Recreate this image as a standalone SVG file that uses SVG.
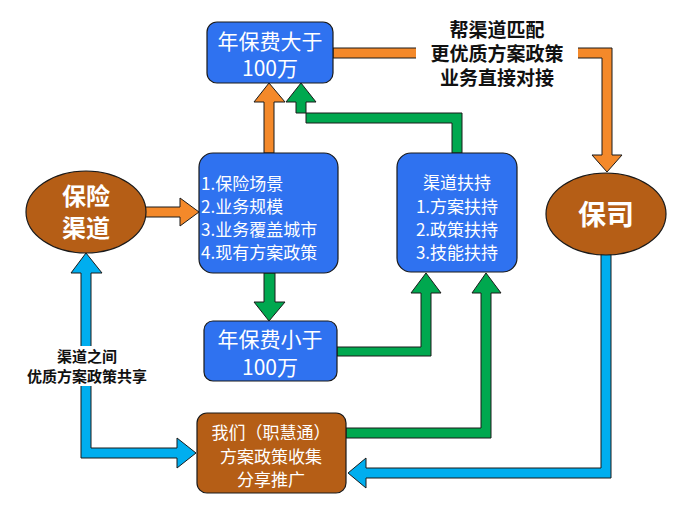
<svg xmlns="http://www.w3.org/2000/svg" width="682" height="506" viewBox="0 0 682 506">
<style>
.b{fill:#2F72F0;stroke:#1a1a1a;stroke-width:1.2}
.br{fill:#B55E16;stroke:#1a1a1a;stroke-width:1.2}
.o{fill:#F4892A;stroke:#1a1a1a;stroke-width:1}
.g{fill:#00A84F;stroke:#1a1a1a;stroke-width:1}
.c{fill:#00AEEF;stroke:#1a1a1a;stroke-width:1}
text{font-family:"Noto Sans CJK SC","Microsoft YaHei",sans-serif;text-anchor:middle}
.w{fill:#fff}
.k{fill:#111;font-weight:bold}
</style>
<g id="connectors">
<polygon class="o" points="264,153 264,102 254,102 269,83 285,102 274,102 274,153"/>
<polygon class="g" points="452,153 452,123 306,123 306,102 316,102 301,83 286,102 296,102 296,113 462,113 462,153"/>
<polygon class="o" points="333,48 612,48 612,155 622,155 607,172 592,155 602,155 602,58 333,58"/>
<polygon class="o" points="145,207 180,207 180,198 199,212 180,226 180,217 145,217"/>
<polygon class="g" points="264,273 264,302 254,302 269,321 285,302 275,302 275,273"/>
<polygon class="g" points="337,347 421,347 421,293 411,293 426,273 441,293 431,293 431,356 337,356"/>
<polygon class="g" points="346,428 481,428 481,293 472,293 486,273 501,293 491,293 491,438 346,438"/>
<polygon class="c" points="81,273 71,273 86,253 102,273 91,273 91,448 177,448 177,438 196,453 177,468 177,458 81,458"/>
<polygon class="c" points="601,254 611,254 611,478 366,478 366,488 348,473 366,458 366,468 601,468"/>
<rect x="416" y="14" width="162" height="74" fill="#fff"/>
<text class="k" font-size="19" x="497" y="37">帮渠道匹配</text>
<text class="k" font-size="19" x="497" y="61">更优质方案政策</text>
<text class="k" font-size="19" x="497" y="85">业务直接对接</text>
<rect x="14" y="346" width="146" height="40" fill="#fff"/>
<text class="k" font-size="15" x="87" y="362">渠道之间</text>
<text class="k" font-size="15" x="87" y="382">优质方案政策共享</text>
</g>
<g id="n1"><rect class="b" x="207" y="22" width="126" height="61" rx="10"/>
<text class="w" font-size="21" x="270" y="49">年保费大于</text><text class="w" font-size="21" x="270" y="76">100万</text></g>
<g id="n2"><rect class="b" x="199" y="153" width="139" height="120" rx="14"/>
<g class="w" font-size="17"><text x="201" y="190" style="text-anchor:start">1.保险场景</text><text x="201" y="213" style="text-anchor:start">2.业务规模</text><text x="201" y="236" style="text-anchor:start">3.业务覆盖城市</text><text x="201" y="259" style="text-anchor:start">4.现有方案政策</text></g></g>
<g id="n3"><rect class="b" x="397" y="153" width="120" height="119" rx="14"/>
<text class="w" font-size="17" x="457" y="189">渠道扶持</text><text class="w" font-size="17" x="457" y="213">1.方案扶持</text><text class="w" font-size="17" x="457" y="236">2.政策扶持</text><text class="w" font-size="17" x="457" y="259">3.技能扶持</text></g>
<g id="n4"><rect class="b" x="204" y="321" width="133" height="60" rx="9"/>
<text class="w" font-size="21" x="270" y="347">年保费小于</text><text class="w" font-size="21" x="270" y="375">100万</text></g>
<g id="n5"><rect class="br" x="197" y="413" width="149" height="80" rx="10"/>
<text class="w" font-size="17" x="271" y="439">我们（职慧通）</text><text class="w" font-size="17" x="271" y="463">方案政策收集</text><text class="w" font-size="17" x="271" y="486">分享推广</text></g>
<g id="n6"><ellipse class="br" cx="86" cy="212" rx="60" ry="41"/>
<text class="w" font-size="24" font-weight="bold" x="86" y="205">保险</text><text class="w" font-size="24" font-weight="bold" x="86" y="237">渠道</text></g>
<g id="n7"><ellipse class="br" cx="606" cy="214" rx="60" ry="41"/>
<text class="w" font-size="28" font-weight="bold" x="606" y="225">保司</text></g>
</svg>
